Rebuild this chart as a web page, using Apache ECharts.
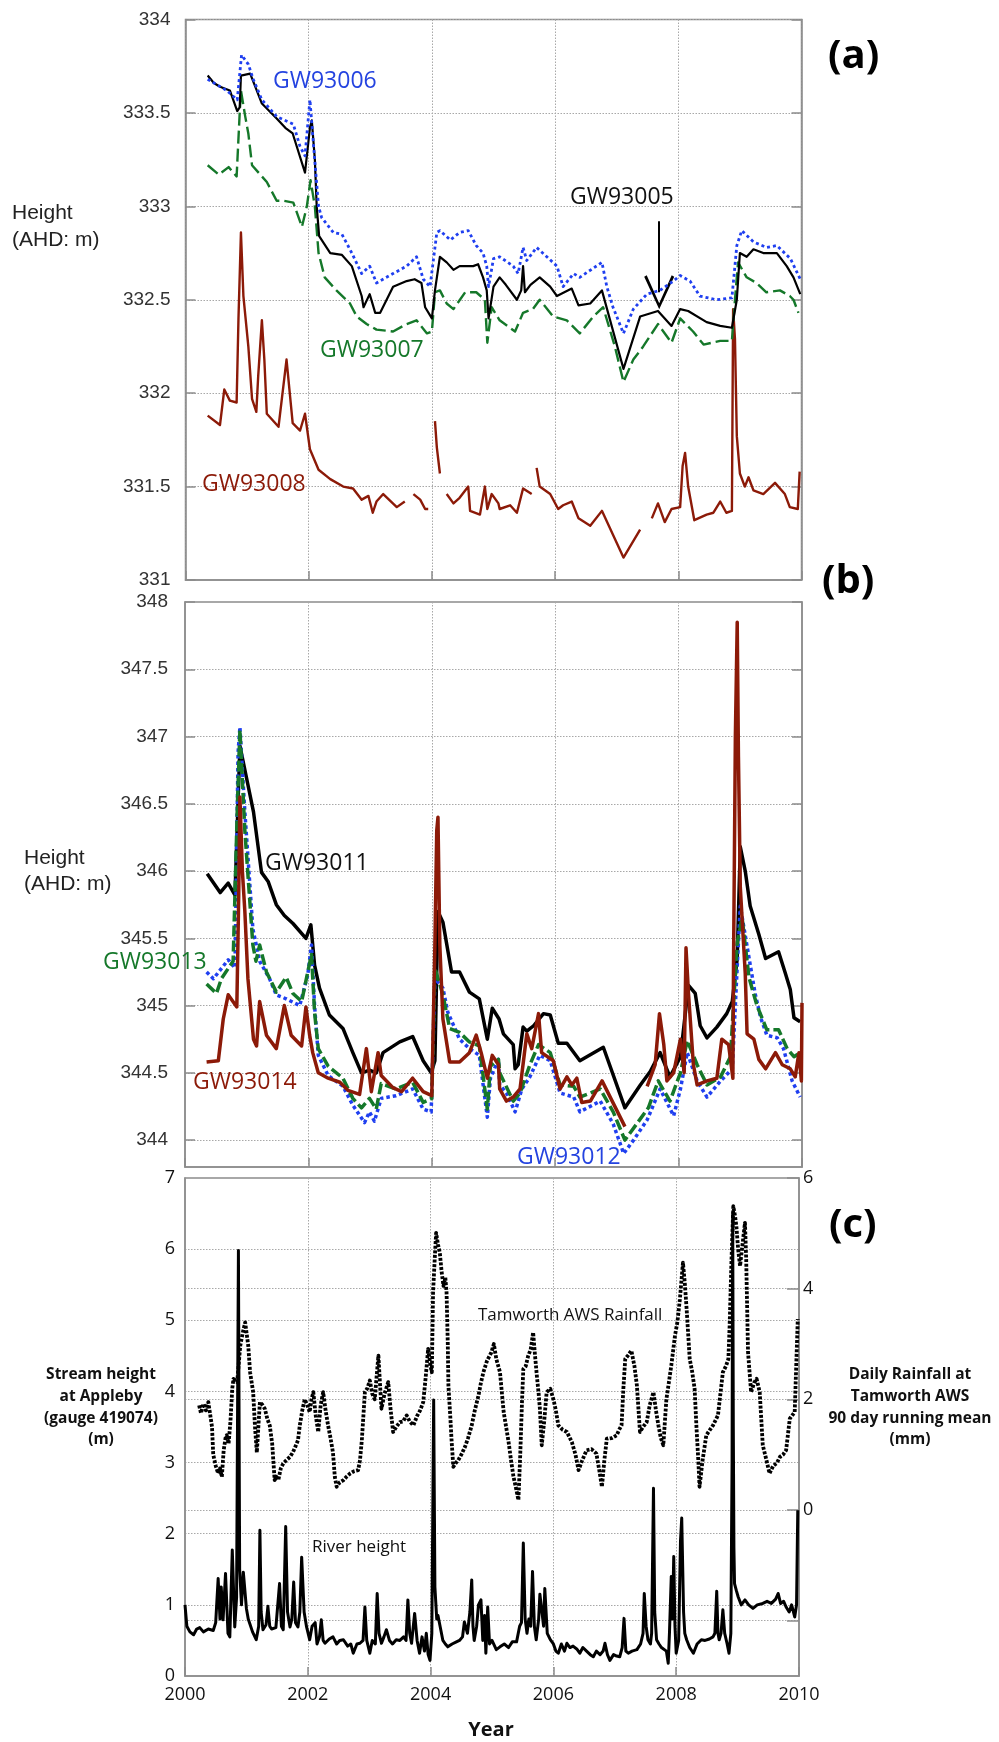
<!DOCTYPE html>
<html><head><meta charset="utf-8">
<script src="https://cdn.jsdelivr.net/npm/echarts@6/dist/echarts.min.js"></script>
<style>html,body{margin:0;padding:0;background:#fff}#c{width:999px;height:1742px}</style>
</head><body><div id="c"></div>
<script>
// ---------- DATA (year, value) ----------
const yearTicks = [2000, 2002, 2004, 2006, 2008, 2010];
const ticksA = [331, 331.5, 332, 332.5, 333, 333.5, 334];
const ticksB = [344, 344.5, 345, 345.5, 346, 346.5, 347, 347.5, 348];
const ticksCRightTicks = [-2, 0, 2, 4, 6];
const ticksCRightLabels = [0, 2, 4, 6];

// Panel (a)
const gw93005 = [[2000.36,333.70],[2000.46,333.66],[2000.56,333.64],[2000.72,333.62],[2000.84,333.51],[2000.88,333.53],[2000.90,333.70],[2001.05,333.71],[2001.24,333.55],[2001.48,333.47],[2001.62,333.42],[2001.74,333.39],[2001.94,333.18],[2002.02,333.42],[2002.05,333.46],[2002.10,333.25],[2002.13,333.0],[2002.17,332.84],[2002.35,332.75],[2002.54,332.74],[2002.70,332.68],[2002.86,332.52],[2002.89,332.46],[2002.99,332.53],[2003.08,332.43],[2003.16,332.43],[2003.37,332.57],[2003.59,332.60],[2003.72,332.61],[2003.83,332.59],[2003.89,332.46],[2004.00,332.40],[2004.05,332.55],[2004.13,332.73],[2004.24,332.70],[2004.35,332.66],[2004.45,332.68],[2004.67,332.68],[2004.75,332.69],[2004.83,332.62],[2004.89,332.55],[2004.92,332.40],[2005.00,332.57],[2005.10,332.62],[2005.20,332.58],[2005.38,332.50],[2005.45,332.55],[2005.48,332.68],[2005.51,332.54],[2005.60,332.58],[2005.75,332.62],[2005.92,332.57],[2006.03,332.52],[2006.27,332.56],[2006.38,332.47],[2006.57,332.48],[2006.76,332.55],[2007.11,332.13],[2007.38,332.41],[2007.67,332.44],[2007.89,332.36],[2008.03,332.45],[2008.16,332.44],[2008.46,332.38],[2008.68,332.36],[2008.87,332.35],[2008.95,332.50],[2009.00,332.75],[2009.11,332.73],[2009.22,332.77],[2009.38,332.75],[2009.60,332.75],[2009.76,332.68],[2009.87,332.62],[2009.98,332.53]];
const gw93006 = [[2000.36,333.68],[2000.67,333.62],[2000.84,333.57],[2000.91,333.81],[2001.02,333.76],[2001.10,333.68],[2001.24,333.57],[2001.48,333.48],[2001.75,333.44],[2001.86,333.32],[2001.94,333.27],[2002.02,333.57],[2002.08,333.32],[2002.16,333.0],[2002.21,332.94],[2002.40,332.86],[2002.54,332.85],[2002.70,332.75],[2002.86,332.64],[2002.99,332.68],[2003.10,332.59],[2003.37,332.64],[2003.59,332.68],[2003.75,332.73],[2003.86,332.61],[2003.97,332.57],[2004.08,332.86],[2004.13,332.87],[2004.30,332.82],[2004.45,332.86],[2004.59,332.87],[2004.72,332.79],[2004.83,332.75],[2004.89,332.68],[2004.92,332.57],[2005.00,332.72],[2005.10,332.73],[2005.32,332.68],[2005.40,332.64],[2005.48,332.78],[2005.54,332.71],[2005.70,332.78],[2006.03,332.68],[2006.13,332.57],[2006.30,332.64],[2006.40,332.62],[2006.76,332.70],[2006.84,332.57],[2006.94,332.46],[2007.11,332.32],[2007.27,332.45],[2007.49,332.53],[2007.70,332.55],[2007.92,332.60],[2008.03,332.63],[2008.19,332.60],[2008.35,332.52],[2008.62,332.50],[2008.87,332.51],[2008.95,332.79],[2009.03,332.87],[2009.22,332.81],[2009.43,332.78],[2009.60,332.79],[2009.82,332.72],[2009.98,332.61]];
const gw93007 = [[2000.36,333.22],[2000.54,333.17],[2000.70,333.21],[2000.83,333.16],[2000.88,333.50],[2000.90,333.62],[2000.97,333.48],[2001.02,333.39],[2001.08,333.22],[2001.32,333.13],[2001.48,333.03],[2001.59,333.03],[2001.75,333.02],[2001.89,332.89],[2001.97,333.0],[2002.03,333.14],[2002.10,333.0],[2002.16,332.75],[2002.26,332.62],[2002.45,332.55],[2002.67,332.48],[2002.78,332.41],[2002.94,332.37],[2003.10,332.34],[2003.37,332.33],[2003.59,332.37],[2003.75,332.39],[2003.92,332.32],[2004.00,332.33],[2004.05,332.54],[2004.13,332.55],[2004.24,332.48],[2004.35,332.45],[2004.54,332.54],[2004.72,332.54],[2004.86,332.50],[2004.90,332.27],[2004.97,332.46],[2005.10,332.39],[2005.35,332.33],[2005.48,332.43],[2005.64,332.45],[2005.75,332.50],[2005.97,332.41],[2006.19,332.39],[2006.40,332.32],[2006.62,332.41],[2006.78,332.46],[2006.97,332.25],[2007.11,332.06],[2007.27,332.18],[2007.43,332.25],[2007.67,332.37],[2007.89,332.27],[2008.03,332.40],[2008.24,332.33],[2008.41,332.26],[2008.68,332.28],[2008.87,332.28],[2008.92,332.50],[2008.97,332.70],[2009.11,332.62],[2009.27,332.59],[2009.43,332.54],[2009.65,332.55],[2009.81,332.52],[2009.87,332.50],[2009.95,332.43]];
const gw93008 = [[2000.36,331.88],[2000.56,331.83],[2000.63,332.02],[2000.72,331.96],[2000.83,331.95],[2000.86,332.40],[2000.90,332.86],[2000.94,332.52],[2001.02,332.25],[2001.08,331.97],[2001.15,331.90],[2001.18,332.09],[2001.24,332.39],[2001.28,332.18],[2001.32,331.89],[2001.51,331.82],[2001.64,332.18],[2001.74,331.84],[2001.86,331.80],[2001.94,331.89],[2002.02,331.70],[2002.16,331.59],[2002.35,331.54],[2002.56,331.50],[2002.72,331.49],[2002.86,331.43],[2002.97,331.45],[2003.04,331.36],[2003.10,331.42],[2003.21,331.46],[2003.43,331.39],[2003.56,331.42],[2003.63,null],[2003.70,331.46],[2003.81,331.43],[2003.89,331.38],[2003.94,331.38],[2003.99,null],[2004.05,331.85],[2004.08,331.71],[2004.13,331.57],[2004.18,null],[2004.24,331.46],[2004.35,331.41],[2004.45,331.44],[2004.59,331.50],[2004.62,331.37],[2004.78,331.35],[2004.86,331.50],[2004.90,331.38],[2004.97,331.46],[2005.08,331.41],[2005.10,331.38],[2005.27,331.40],[2005.38,331.36],[2005.48,331.49],[2005.62,331.46],[2005.66,null],[2005.70,331.60],[2005.75,331.50],[2005.92,331.46],[2006.05,331.38],[2006.13,331.40],[2006.27,331.42],[2006.38,331.33],[2006.57,331.29],[2006.76,331.37],[2007.11,331.12],[2007.38,331.27],[2007.48,null],[2007.57,331.33],[2007.67,331.41],[2007.78,331.31],[2007.89,331.38],[2008.03,331.39],[2008.07,331.61],[2008.11,331.68],[2008.16,331.50],[2008.26,331.32],[2008.46,331.35],[2008.57,331.36],[2008.68,331.42],[2008.78,331.36],[2008.87,331.37],[2008.89,332.45],[2008.92,332.29],[2008.95,331.77],[2009.00,331.57],[2009.08,331.50],[2009.14,331.55],[2009.22,331.48],[2009.38,331.46],[2009.57,331.52],[2009.73,331.46],[2009.81,331.39],[2009.94,331.38],[2009.97,331.58]];
const arrow05 = [[2007.69, 332.92], [2007.69, 332.54]];

// Panel (b)
const gw93011 = [[2000.36,345.98],[2000.57,345.84],[2000.70,345.91],[2000.81,345.82],[2000.89,346.93],[2000.94,346.82],[2001.11,346.44],[2001.24,345.99],[2001.35,345.92],[2001.48,345.75],[2001.61,345.67],[2001.75,345.61],[2001.96,345.50],[2002.04,345.60],[2002.10,345.30],[2002.18,345.13],[2002.34,344.93],[2002.56,344.83],[2002.72,344.65],[2002.86,344.50],[2002.99,344.52],[2003.10,344.50],[2003.21,344.65],[2003.48,344.73],[2003.69,344.77],[2003.86,344.59],[2003.99,344.50],[2004.05,344.59],[2004.10,345.70],[2004.18,345.62],[2004.32,345.25],[2004.45,345.25],[2004.61,345.10],[2004.77,345.05],[2004.90,344.75],[2004.98,344.98],[2005.09,344.90],[2005.16,344.79],[2005.32,344.71],[2005.35,344.53],[2005.40,344.56],[2005.48,344.84],[2005.54,344.81],[2005.65,344.85],[2005.81,344.94],[2005.92,344.93],[2006.05,344.72],[2006.19,344.72],[2006.40,344.59],[2006.78,344.69],[2007.13,344.24],[2007.38,344.41],[2007.54,344.51],[2007.70,344.65],[2007.86,344.47],[2008.03,344.62],[2008.16,345.15],[2008.27,345.09],[2008.35,344.85],[2008.46,344.76],[2008.62,344.84],[2008.78,344.94],[2008.87,345.03],[2008.95,345.35],[2009.00,346.18],[2009.08,346.00],[2009.16,345.74],[2009.30,345.53],[2009.41,345.35],[2009.62,345.40],[2009.73,345.24],[2009.81,345.12],[2009.87,344.91],[2009.97,344.88]];
const gw93012 = [[2000.35,345.25],[2000.46,345.20],[2000.70,345.34],[2000.81,345.28],[2000.86,346.88],[2000.89,347.07],[2000.97,346.44],[2001.10,345.57],[2001.21,345.33],[2001.37,345.20],[2001.48,345.08],[2001.64,345.05],[2001.86,345.00],[2001.99,345.23],[2002.05,345.45],[2002.10,345.00],[2002.16,344.63],[2002.32,344.48],[2002.56,344.40],[2002.72,344.26],[2002.91,344.13],[2002.99,344.21],[2003.07,344.14],[2003.18,344.31],[2003.42,344.33],[2003.69,344.38],[2003.86,344.23],[2003.99,344.21],[2004.05,345.20],[2004.18,345.13],[2004.26,344.95],[2004.45,344.75],[2004.61,344.68],[2004.77,344.63],[2004.90,344.17],[2004.95,344.46],[2005.08,344.60],[2005.10,344.41],[2005.21,344.35],[2005.35,344.21],[2005.46,344.38],[2005.59,344.47],[2005.75,344.63],[2005.92,344.59],[2006.08,344.35],[2006.30,344.32],[2006.40,344.21],[2006.73,344.29],[2006.94,344.12],[2007.11,343.90],[2007.27,344.00],[2007.49,344.15],[2007.70,344.38],[2007.92,344.18],[2008.03,344.38],[2008.14,344.65],[2008.30,344.44],[2008.46,344.32],[2008.68,344.44],[2008.87,344.53],[2008.95,345.29],[2009.00,345.74],[2009.11,345.44],[2009.24,345.09],[2009.33,344.91],[2009.43,344.78],[2009.60,344.76],[2009.70,344.68],[2009.84,344.44],[2009.97,344.32]];
const gw93013 = [[2000.35,345.16],[2000.51,345.09],[2000.59,345.20],[2000.78,345.33],[2000.85,346.50],[2000.89,347.05],[2000.97,346.30],[2001.10,345.45],[2001.15,345.33],[2001.21,345.45],[2001.32,345.25],[2001.48,345.10],[2001.64,345.21],[2001.75,345.09],[2001.89,345.03],[2001.99,345.25],[2002.05,345.38],[2002.10,344.95],[2002.16,344.68],[2002.32,344.55],[2002.56,344.46],[2002.72,344.31],[2002.86,344.24],[2002.99,344.31],[2003.10,344.23],[2003.18,344.42],[2003.42,344.38],[2003.69,344.43],[2003.86,344.28],[2004.00,344.31],[2004.05,345.28],[2004.18,345.08],[2004.29,344.83],[2004.45,344.80],[2004.61,344.73],[2004.77,344.70],[2004.90,344.23],[2004.95,344.55],[2005.08,344.60],[2005.10,344.50],[2005.32,344.29],[2005.43,344.35],[2005.59,344.56],[2005.73,344.71],[2005.92,344.65],[2006.08,344.41],[2006.30,344.40],[2006.40,344.32],[2006.73,344.38],[2006.94,344.21],[2007.13,344.00],[2007.32,344.12],[2007.51,344.24],[2007.67,344.44],[2007.86,344.29],[2008.03,344.50],[2008.14,344.74],[2008.30,344.56],[2008.46,344.41],[2008.68,344.47],[2008.84,344.62],[2008.95,345.47],[2009.03,345.65],[2009.14,345.21],[2009.27,345.00],[2009.43,344.82],[2009.62,344.82],[2009.76,344.68],[2009.87,344.62],[2009.97,344.65]];
const gw93014 = [[2000.35,344.58],[2000.54,344.59],[2000.62,344.90],[2000.70,345.08],[2000.84,344.99],[2000.87,345.80],[2000.89,346.55],[2000.93,346.00],[2000.97,345.70],[2001.02,345.20],[2001.11,344.75],[2001.16,344.70],[2001.21,345.03],[2001.32,344.78],[2001.48,344.68],[2001.61,345.00],[2001.72,344.78],[2001.89,344.70],[2001.96,344.99],[2002.02,344.78],[2002.07,344.65],[2002.16,344.50],[2002.32,344.46],[2002.51,344.43],[2002.64,344.37],[2002.83,344.34],[2002.94,344.68],[2003.02,344.36],[2003.13,344.65],[2003.18,344.48],[2003.37,344.39],[2003.51,344.36],[2003.69,344.46],[2003.86,344.36],[2004.00,344.33],[2004.05,345.45],[2004.08,346.30],[2004.10,346.40],[2004.13,345.45],[2004.18,344.90],[2004.29,344.58],[2004.45,344.58],[2004.61,344.65],[2004.72,344.78],[2004.80,344.65],[2004.90,344.46],[2004.98,344.63],[2005.08,344.56],[2005.10,344.38],[2005.21,344.29],[2005.32,344.32],[2005.43,344.38],[2005.54,344.79],[2005.62,344.68],[2005.73,344.94],[2005.78,344.65],[2005.97,344.59],[2006.08,344.38],[2006.19,344.47],[2006.27,344.41],[2006.35,344.46],[2006.43,344.28],[2006.57,344.29],[2006.76,344.44],[2007.13,344.10],[2007.30,null],[2007.49,344.40],[2007.62,344.56],[2007.69,344.94],[2007.76,344.71],[2007.81,344.44],[2007.92,344.50],[2008.03,344.75],[2008.09,344.50],[2008.12,345.43],[2008.16,345.09],[2008.24,344.56],[2008.30,344.41],[2008.46,344.44],[2008.62,344.46],[2008.70,344.75],[2008.81,344.71],[2008.88,344.46],[2008.89,345.29],[2008.92,347.00],[2008.95,347.85],[2008.97,346.85],[2009.00,345.88],[2009.08,345.24],[2009.11,344.79],[2009.22,344.75],[2009.30,344.60],[2009.41,344.53],[2009.57,344.65],[2009.68,344.56],[2009.81,344.53],[2009.89,344.47],[2009.95,344.65],[2009.99,344.44],[2010.00,345.02]];

// Panel (c)
const riverHeight = [[2000.00,1.00],[2000.03,0.70],[2000.08,0.62],[2000.14,0.58],[2000.19,0.66],[2000.24,0.68],[2000.30,0.62],[2000.38,0.66],[2000.46,0.64],[2000.50,0.75],[2000.54,1.37],[2000.57,0.80],[2000.59,1.25],[2000.62,0.79],[2000.66,1.44],[2000.70,0.60],[2000.73,0.55],[2000.77,1.77],[2000.81,0.69],[2000.84,1.10],[2000.87,5.98],[2000.89,1.50],[2000.92,1.00],[2000.95,1.46],[2001.00,0.95],[2001.03,0.80],[2001.10,0.62],[2001.16,0.51],[2001.20,0.70],[2001.22,2.05],[2001.24,0.90],[2001.27,0.65],[2001.32,0.72],[2001.35,0.98],[2001.38,0.70],[2001.41,0.66],[2001.48,0.68],[2001.54,1.30],[2001.57,0.70],[2001.60,0.65],[2001.64,2.10],[2001.67,0.90],[2001.71,0.69],[2001.74,0.80],[2001.77,1.32],[2001.80,0.75],[2001.84,0.69],[2001.87,0.90],[2001.90,1.67],[2001.94,0.90],[2001.98,0.69],[2002.03,0.51],[2002.07,0.70],[2002.12,0.75],[2002.15,0.45],[2002.19,0.55],[2002.22,0.79],[2002.25,0.50],[2002.28,0.46],[2002.35,0.52],[2002.41,0.55],[2002.47,0.45],[2002.52,0.50],[2002.58,0.51],[2002.65,0.42],[2002.70,0.45],[2002.74,0.32],[2002.80,0.45],[2002.85,0.46],[2002.90,0.50],[2002.93,0.97],[2002.96,0.50],[2003.01,0.32],[2003.05,0.50],[2003.10,0.45],[2003.13,1.16],[2003.16,0.60],[2003.20,0.46],[2003.24,0.55],[2003.28,0.65],[2003.33,0.50],[2003.38,0.45],[2003.44,0.51],[2003.50,0.50],[2003.56,0.55],[2003.60,0.50],[2003.63,1.07],[2003.66,0.60],[2003.69,0.46],[2003.74,0.88],[2003.78,0.50],[2003.82,0.32],[2003.86,0.55],[2003.90,0.35],[2003.93,0.60],[2003.96,0.30],[2003.99,0.22],[2004.02,0.60],[2004.05,3.88],[2004.07,1.25],[2004.10,0.80],[2004.12,0.85],[2004.15,0.83],[2004.20,0.50],[2004.24,0.45],[2004.28,0.41],[2004.35,0.45],[2004.42,0.48],[2004.47,0.50],[2004.52,0.55],[2004.55,0.76],[2004.60,0.60],[2004.64,0.90],[2004.67,1.35],[2004.69,0.70],[2004.71,0.50],[2004.75,0.70],[2004.78,1.00],[2004.82,1.07],[2004.85,0.50],[2004.88,0.85],[2004.90,0.32],[2004.93,0.97],[2004.96,0.45],[2005.00,0.50],[2005.07,0.37],[2005.13,0.41],[2005.20,0.45],[2005.27,0.40],[2005.33,0.48],[2005.40,0.48],[2005.45,0.70],[2005.48,0.75],[2005.51,1.87],[2005.54,0.80],[2005.57,0.60],[2005.60,0.80],[2005.63,0.70],[2005.66,1.47],[2005.69,0.70],[2005.72,0.51],[2005.76,0.80],[2005.78,1.15],[2005.81,1.16],[2005.84,0.70],[2005.86,1.23],[2005.90,0.60],[2005.95,0.51],[2006.00,0.45],[2006.04,0.35],[2006.08,0.32],[2006.13,0.45],[2006.18,0.35],[2006.22,0.46],[2006.27,0.40],[2006.32,0.42],[2006.38,0.38],[2006.43,0.32],[2006.48,0.40],[2006.54,0.35],[2006.60,0.30],[2006.65,0.27],[2006.70,0.35],[2006.76,0.30],[2006.81,0.35],[2006.84,0.46],[2006.88,0.30],[2006.92,0.22],[2006.98,0.30],[2007.03,0.28],[2007.08,0.27],[2007.12,0.40],[2007.15,0.81],[2007.18,0.35],[2007.22,0.32],[2007.28,0.35],[2007.36,0.37],[2007.42,0.45],[2007.46,0.60],[2007.48,1.16],[2007.51,0.70],[2007.54,0.51],[2007.58,0.45],[2007.60,0.60],[2007.63,2.64],[2007.65,0.90],[2007.68,0.51],[2007.72,0.45],[2007.76,0.40],[2007.79,0.41],[2007.84,0.35],[2007.87,0.18],[2007.89,0.60],[2007.92,1.40],[2007.94,0.80],[2007.96,1.68],[2007.98,0.70],[2008.00,0.32],[2008.04,0.50],[2008.07,1.90],[2008.09,2.22],[2008.12,0.90],[2008.14,0.60],[2008.17,0.51],[2008.22,0.40],[2008.28,0.32],[2008.34,0.45],[2008.41,0.51],[2008.47,0.50],[2008.54,0.52],[2008.60,0.55],[2008.63,0.60],[2008.66,1.19],[2008.68,0.60],[2008.70,0.51],[2008.73,0.60],[2008.76,0.93],[2008.79,0.60],[2008.83,0.45],[2008.86,0.32],[2008.89,0.60],[2008.91,3.00],[2008.92,6.50],[2008.93,3.50],[2008.94,1.80],[2008.95,1.30],[2008.98,1.20],[2009.01,1.11],[2009.06,1.00],[2009.12,1.07],[2009.18,1.00],[2009.25,0.95],[2009.32,1.00],[2009.41,1.02],[2009.48,1.05],[2009.55,1.02],[2009.62,1.08],[2009.66,1.16],[2009.70,1.02],[2009.75,1.05],[2009.79,0.97],[2009.84,0.90],[2009.88,1.00],[2009.93,0.83],[2009.96,1.00],[2009.98,2.33]];
const rainfall90 = [[2000.23,1.89],[2000.26,1.75],[2000.30,1.92],[2000.34,1.80],[2000.38,1.95],[2000.41,1.98],[2000.44,1.50],[2000.46,1.00],[2000.50,0.80],[2000.54,0.66],[2000.57,0.75],[2000.60,0.60],[2000.63,1.08],[2000.66,1.30],[2000.68,1.35],[2000.71,1.20],[2000.74,1.60],[2000.77,2.20],[2000.79,2.37],[2000.85,2.31],[2000.90,2.97],[2000.94,3.20],[2000.98,3.39],[2001.03,2.97],[2001.06,2.49],[2001.11,2.13],[2001.14,1.50],[2001.17,1.04],[2001.20,1.60],[2001.22,1.95],[2001.26,1.90],[2001.30,1.83],[2001.34,1.65],[2001.38,1.53],[2001.42,1.20],[2001.46,0.54],[2001.49,0.60],[2001.52,0.54],[2001.56,0.75],[2001.60,0.84],[2001.65,0.90],[2001.71,0.96],[2001.76,1.05],[2001.80,1.15],[2001.84,1.26],[2001.87,1.53],[2001.91,1.80],[2001.95,2.00],[2001.99,1.90],[2002.03,1.77],[2002.06,2.00],[2002.09,2.13],[2002.13,1.70],[2002.17,1.41],[2002.21,1.90],[2002.25,2.13],[2002.29,1.80],[2002.33,1.53],[2002.37,1.30],[2002.41,1.04],[2002.44,0.60],[2002.47,0.42],[2002.52,0.50],[2002.58,0.54],[2002.63,0.60],[2002.69,0.66],[2002.75,0.70],[2002.82,0.72],[2002.85,0.90],[2002.88,1.26],[2002.93,2.13],[2002.97,2.20],[2003.01,2.34],[2003.05,2.10],[2003.09,2.00],[2003.12,2.40],[2003.15,2.79],[2003.18,2.20],[2003.20,1.83],[2003.25,2.10],[2003.31,2.31],[2003.35,1.80],[2003.39,1.41],[2003.44,1.50],[2003.50,1.59],[2003.55,1.60],[2003.61,1.71],[2003.66,1.60],[2003.72,1.53],[2003.78,1.70],[2003.83,1.80],[2003.88,1.95],[2003.92,2.40],[2003.96,2.91],[2004.00,2.60],[2004.02,2.49],[2004.04,3.93],[2004.07,4.60],[2004.09,5.01],[2004.12,4.80],[2004.15,4.65],[2004.18,4.30],[2004.21,4.05],[2004.24,4.20],[2004.26,3.93],[2004.28,3.00],[2004.29,2.25],[2004.32,1.70],[2004.34,1.29],[2004.37,0.78],[2004.41,0.85],[2004.45,0.90],[2004.50,1.00],[2004.56,1.14],[2004.61,1.30],[2004.67,1.53],[2004.72,1.80],[2004.78,2.07],[2004.82,2.30],[2004.86,2.49],[2004.92,2.70],[2004.99,2.85],[2005.03,3.00],[2005.07,2.73],[2005.13,2.49],[2005.19,1.77],[2005.23,1.50],[2005.27,1.23],[2005.31,0.90],[2005.35,0.60],[2005.39,0.40],[2005.43,0.18],[2005.46,1.00],[2005.49,2.00],[2005.51,2.55],[2005.55,2.60],[2005.59,2.79],[2005.63,2.90],[2005.67,3.21],[2005.70,2.80],[2005.73,2.43],[2005.76,2.10],[2005.78,1.83],[2005.81,1.17],[2005.85,1.60],[2005.89,2.13],[2005.95,2.19],[2006.00,2.00],[2006.04,1.80],[2006.08,1.53],[2006.15,1.45],[2006.22,1.41],[2006.30,1.23],[2006.36,1.00],[2006.41,0.72],[2006.47,0.90],[2006.54,1.08],[2006.62,1.10],[2006.70,1.02],[2006.75,0.70],[2006.79,0.42],[2006.83,0.90],[2006.87,1.29],[2006.95,1.30],[2007.03,1.35],[2007.07,1.45],[2007.11,1.53],[2007.14,2.20],[2007.17,2.73],[2007.22,2.80],[2007.27,2.88],[2007.32,2.60],[2007.36,2.25],[2007.41,1.41],[2007.46,1.50],[2007.52,1.59],[2007.57,1.90],[2007.63,2.13],[2007.67,1.80],[2007.71,1.53],[2007.75,1.30],[2007.79,1.17],[2007.84,2.00],[2007.88,2.30],[2007.92,2.61],[2007.98,3.15],[2008.02,3.40],[2008.06,3.81],[2008.11,4.47],[2008.14,4.10],[2008.17,3.63],[2008.22,2.73],[2008.26,2.50],[2008.30,2.19],[2008.33,1.50],[2008.36,0.90],[2008.38,0.42],[2008.43,0.90],[2008.49,1.35],[2008.55,1.45],[2008.60,1.53],[2008.68,1.71],[2008.72,2.10],[2008.76,2.49],[2008.81,2.60],[2008.85,2.73],[2008.87,3.33],[2008.90,4.50],[2008.93,5.49],[2008.96,5.30],[2008.98,5.13],[2009.01,4.70],[2009.04,4.41],[2009.08,4.80],[2009.12,5.19],[2009.14,4.53],[2009.17,2.85],[2009.22,2.13],[2009.27,2.30],[2009.31,2.37],[2009.36,2.13],[2009.41,1.17],[2009.47,0.90],[2009.52,0.66],[2009.58,0.80],[2009.64,0.85],[2009.69,0.96],[2009.74,1.00],[2009.79,1.08],[2009.85,1.65],[2009.93,1.77],[2009.98,3.45]];

// ---------- STYLE ----------
const FRAME = '#8c8c8c', GRIDC = '#a8a8a8';
const BLUE = '#1f3ff0', GREEN = '#15782a', RED = '#8c1a08', BLACK = '#000';
const helv = '"Liberation Sans", Arial, sans-serif';
const myr = '"Open Sans", "Noto Sans", sans-serif';

const grids = [
  {left:185.5, top:19.5, width:616, height:560.5},
  {left:185, top:602, width:617, height:565},
  {left:185, top:1178, width:614, height:498}
].map(g => Object.assign({show:true, borderColor:FRAME, borderWidth:1.5, backgroundColor:'transparent'}, g));

const dotted = {color:GRIDC, width:1, type:[1.5,1.5]};

function xAx(gi, showLabels){
  return {type:'value', gridIndex:gi, min:yearTicks[0], max:yearTicks[yearTicks.length-1], interval:2,
    axisLine:{show:true, lineStyle:{color:FRAME, width:1.5}},
    axisTick:{show:true, inside:true, length:9, lineStyle:{color:FRAME, width:1.5}},
    axisLabel:{show:showLabels, margin:10, formatter:v=>String(v), fontFamily:myr, fontSize:18, color:'#111'},
    splitLine:{show:true, lineStyle:dotted}};
}
function yAx(gi, opts){
  const o = {type:'value', gridIndex:gi, scale:true,
    axisLine:{show:true, lineStyle:{color:FRAME, width:1.5}},
    axisTick:{show:true, inside:true, length:10, lineStyle:{color:FRAME, width:1.5}},
    axisLabel:{show:true, margin:15, fontFamily:helv, fontSize:19, color:'#333', formatter:v=>String(v)},
    splitLine:{show:true, lineStyle:dotted}};
  for (const k in opts) {
    if (typeof opts[k] === 'object' && o[k] && !Array.isArray(opts[k])) o[k] = Object.assign({}, o[k], opts[k]);
    else o[k] = opts[k];
  }
  return o;
}

const yAxes = [
  yAx(0, {min:331, max:334, interval:0.5}),
  yAx(0, {min:331, max:334, interval:0.5, position:'right', axisLabel:{show:false}, splitLine:{show:false}}),
  yAx(1, {min:343.8, max:348, axisTick:{customValues:ticksB}, axisLabel:{customValues:ticksB, margin:17}}),
  yAx(1, {min:343.8, max:348, position:'right', axisTick:{customValues:ticksB}, axisLabel:{show:false, customValues:ticksB}, splitLine:{show:false}}),
  yAx(2, {min:0, max:7, interval:1, axisTick:{show:false}, axisLabel:{margin:10, fontFamily:myr, fontSize:18, color:'#111'}}),
  yAx(2, {min:-3, max:6, position:'right', axisTick:{customValues:ticksCRightTicks, length:12}, axisLabel:{customValues:ticksCRightLabels, margin:4, fontFamily:myr, fontSize:18, color:'#111'}})
];

function line(data, xi, yi, color, width, type, z){
  return {type:'line', xAxisIndex:xi, yAxisIndex:yi, data:data, symbol:'none', showSymbol:false,
    connectNulls:false, animation:false, silent:true, z:z||2,
    lineStyle:{color:color, width:width, type:type||'solid', cap:'butt', join:'round'}};
}

const s05 = line(gw93005, 0, 0, BLACK, 2.2, 'solid', 4);
s05.markLine = {silent:true, animation:false, precision:4,
  symbol:['none','path://M15,0 L30,32 L27.5,33.5 L15,6 L2.5,33.5 L0,32 Z'], symbolSize:[30,34],
  lineStyle:{color:BLACK, width:2, type:'solid'}, label:{show:false},
  data:[[{coord:arrow05[0]},{coord:arrow05[1]}]]};

const series = [
  line(gw93008, 0, 0, RED, 2.4, 'solid', 2),
  line(gw93007, 0, 0, GREEN, 2.4, [13,5], 3),
  s05,
  line(gw93006, 0, 0, BLUE, 2.8, [3,3], 5),
  line(gw93011, 1, 2, BLACK, 3.5, 'solid', 2),
  line(gw93012, 1, 2, BLUE, 3.5, [3.5,3], 3),
  line(gw93013, 1, 2, GREEN, 3.5, [11,4], 4),
  line(gw93014, 1, 2, RED, 3.5, 'solid', 5),
  line(riverHeight, 2, 4, BLACK, 3, 'solid', 3),
  line(rainfall90, 2, 5, BLACK, 3.8, [3,1.6], 4)
];

function txt(text, x, y, color, font, align){
  return {type:'text', x:x, y:y, silent:true, z:100,
    style:{text:text, fill:color, font:font, align:align||'left', verticalAlign:'middle'}};
}
const lblF = '23px ' + myr;
const graphics = [
  txt('GW93006', 273, 81, '#2443e0', lblF),
  txt('GW93005', 570, 197, '#111', lblF),
  txt('GW93007', 320, 350, GREEN, lblF),
  txt('GW93008', 202, 484, RED, lblF),
  txt('GW93011', 265, 863, '#111', lblF),
  txt('GW93013', 103, 962, GREEN, lblF),
  txt('GW93014', 193, 1082, RED, lblF),
  txt('GW93012', 517, 1157, '#2443e0', lblF),
  txt('Tamworth AWS Rainfall', 478, 1315, '#111', '17px ' + myr),
  txt('River height', 312, 1547, '#111', '17px ' + myr),
  txt('(a)', 828, 57, '#000', 'bold 40px ' + myr),
  txt('(b)', 822, 582, '#000', 'bold 40px ' + myr),
  txt('(c)', 829, 1226, '#000', 'bold 40px ' + myr),
  {type:'text', x:12, y:200, silent:true, style:{text:'Height\n(AHD: m)', fill:'#222', font:'21px ' + helv, lineHeight:27, align:'left', verticalAlign:'top'}},
  {type:'text', x:24, y:845, silent:true, style:{text:'Height\n(AHD: m)', fill:'#222', font:'21px ' + helv, lineHeight:26, align:'left', verticalAlign:'top'}},
  {type:'text', x:101, y:1364, silent:true, style:{text:'Stream height\nat Appleby\n(gauge 419074)\n(m)', fill:'#111', font:'bold 15.5px ' + myr, lineHeight:21.7, align:'center', verticalAlign:'top'}},
  {type:'text', x:910, y:1364, silent:true, style:{text:'Daily Rainfall at\nTamworth AWS\n90 day running mean\n(mm)', fill:'#111', font:'bold 15.5px ' + myr, lineHeight:21.7, align:'center', verticalAlign:'top'}},
  txt('Year', 491, 1730, '#111', 'bold 20px ' + myr, 'center')
];

const chart = echarts.init(document.getElementById('c'), null, {renderer:'canvas'});
chart.setOption({
  animation:false,
  backgroundColor:'#fff',
  grid:grids,
  xAxis:[xAx(0,false), xAx(1,false), xAx(2,true)],
  yAxis:yAxes,
  series:series,
  graphic:graphics
});
</script>
</body></html>
